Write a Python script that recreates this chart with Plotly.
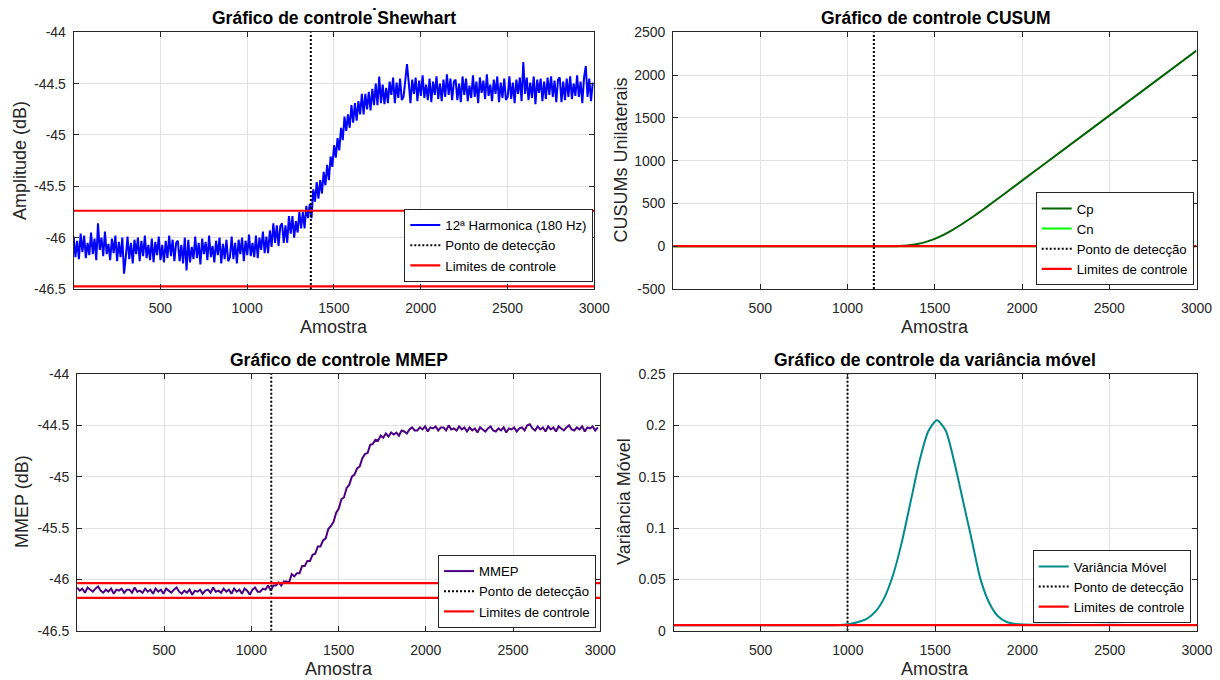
import plotly.graph_objects as go
from plotly.subplots import make_subplots

FONTE = "Liberation Sans, Arial, sans-serif"

# ---- dados ----
# Shewhart: 12a harmonica (180 Hz), uma amostra a cada 10
amostra_shewhart = list(range(1, 3001, 10))
amplitude_180hz = [
    -45.99, -46.19, -46.03, -46.21, -45.96, -46.14, -45.98, -46.20, -46.05, -46.17,
    -45.95, -46.16, -46.01, -46.22, -45.86, -46.12, -46.00, -46.18, -45.94, -46.16,
    -46.06, -46.22, -46.01, -46.15, -45.98, -46.23, -46.04, -46.19, -46.00, -46.35,
    -46.19, -45.99, -46.21, -46.05, -46.25, -46.02, -46.16, -46.00, -46.23, -46.03,
    -46.18, -45.98, -46.20, -46.07, -46.22, -46.01, -46.24, -46.04, -46.17, -45.99,
    -46.22, -46.07, -46.24, -46.03, -46.20, -45.98, -46.18, -46.02, -46.23, -46.05,
    -46.03, -46.23, -46.07, -46.25, -46.00, -46.32, -46.02, -46.24, -46.09, -46.21,
    -45.99, -46.20, -46.05, -46.26, -46.01, -46.16, -46.04, -46.22, -45.98, -46.19,
    -46.08, -46.24, -46.03, -46.17, -46.00, -46.25, -46.06, -46.21, -46.02, -46.23,
    -46.19, -45.99, -46.21, -46.05, -46.25, -46.02, -46.16, -46.00, -46.23, -46.03,
    -46.17, -45.97, -46.18, -46.05, -46.19, -45.98, -46.20, -46.00, -46.12, -45.94,
    -46.15, -45.99, -46.15, -45.93, -46.09, -45.86, -46.05, -45.88, -46.08, -45.89,
    -45.86, -46.05, -45.88, -46.05, -45.79, -45.96, -45.79, -46.00, -45.84, -45.95,
    -45.75, -45.91, -45.75, -45.91, -45.69, -45.81, -45.67, -45.81, -45.53, -45.65,
    -45.46, -45.62, -45.44, -45.57, -45.36, -45.49, -45.29, -45.44, -45.21, -45.31,
    -45.10, -45.22, -45.03, -45.15, -44.93, -45.05, -44.82, -44.96, -44.80, -44.93,
    -44.71, -44.88, -44.69, -44.86, -44.67, -44.80, -44.60, -44.80, -44.60, -44.75,
    -44.58, -44.76, -44.55, -44.71, -44.50, -44.71, -44.43, -44.69, -44.51, -44.70,
    -44.54, -44.69, -44.48, -44.61, -44.44, -44.69, -44.49, -44.64, -44.45, -44.66,
    -44.63, -44.43, -44.31, -44.49, -44.69, -44.46, -44.60, -44.44, -44.67, -44.47,
    -44.62, -44.42, -44.64, -44.51, -44.66, -44.45, -44.68, -44.48, -44.61, -44.43,
    -44.65, -44.50, -44.67, -44.46, -44.63, -44.41, -44.61, -44.45, -44.66, -44.48,
    -44.46, -44.66, -44.50, -44.68, -44.43, -44.61, -44.45, -44.67, -44.52, -44.64,
    -44.42, -44.63, -44.48, -44.69, -44.44, -44.59, -44.47, -44.65, -44.41, -44.62,
    -44.51, -44.67, -44.46, -44.60, -44.43, -44.68, -44.49, -44.64, -44.45, -44.66,
    -44.63, -44.43, -44.65, -44.49, -44.69, -44.46, -44.60, -44.44, -44.67, -44.29,
    -44.60, -44.44, -44.66, -44.49, -44.64, -44.43, -44.70, -44.46, -44.59, -44.45,
    -44.67, -44.48, -44.65, -44.44, -44.61, -44.43, -44.63, -44.47, -44.68, -44.46,
    -44.44, -44.68, -44.48, -44.66, -44.45, -44.63, -44.43, -44.65, -44.50, -44.62,
    -44.42, -44.63, -44.48, -44.69, -44.44, -44.33, -44.63, -44.45, -44.67, -44.49,
]
limites_shewhart = [-45.738, -46.474]
deteccao_shewhart = 1367

# CUSUM
amostra_cusum = [1, 1000, 1200, 1250, 1300, 1350, 1400, 1450, 1500, 1550, 1600,
                 1650, 1700, 1750, 1800, 1900, 2000, 2250, 2500, 2750, 3000]
cusum_cp = [0, 0, 0, 0, 3, 10, 26, 51, 86, 133, 189,
            251, 318, 389, 462, 614, 766, 1146, 1526, 1906, 2286]
amostra_cn = [1, 3000]
cusum_cn = [0, 0]
limites_cusum = [0]
deteccao_cusum = 1151

# MMEP, uma amostra a cada 15
amostra_mmep = list(range(1, 3001, 15))
mmep = [
    -46.08, -46.11, -46.09, -46.13, -46.08, -46.10, -46.12, -46.09, -46.07, -46.11,
    -46.13, -46.10, -46.12, -46.09, -46.14, -46.10, -46.11, -46.09, -46.13, -46.10,
    -46.10, -46.13, -46.08, -46.12, -46.11, -46.13, -46.09, -46.12, -46.10, -46.14,
    -46.09, -46.12, -46.10, -46.14, -46.09, -46.11, -46.13, -46.10, -46.08, -46.12,
    -46.14, -46.11, -46.13, -46.10, -46.15, -46.11, -46.12, -46.10, -46.14, -46.11,
    -46.10, -46.13, -46.08, -46.12, -46.11, -46.13, -46.09, -46.12, -46.10, -46.14,
    -46.09, -46.12, -46.10, -46.14, -46.09, -46.11, -46.15, -46.10, -46.08, -46.12,
    -46.12, -46.09, -46.10, -46.06, -46.11, -46.06, -46.06, -46.03, -46.06, -46.02,
    -46.02, -46.03, -45.95, -45.97, -45.94, -45.94, -45.87, -45.87, -45.82, -45.82,
    -45.76, -45.75, -45.68, -45.68, -45.62, -45.60, -45.51, -45.48, -45.44, -45.35,
    -45.31, -45.22, -45.20, -45.11, -45.08, -45.00, -44.98, -44.92, -44.90, -44.82,
    -44.78, -44.77, -44.69, -44.68, -44.64, -44.65, -44.60, -44.62, -44.58, -44.61,
    -44.57, -44.59, -44.57, -44.60, -44.55, -44.56, -44.58, -44.54, -44.52, -44.55,
    -44.55, -44.52, -44.54, -44.51, -44.56, -44.52, -44.53, -44.51, -44.55, -44.52,
    -44.52, -44.55, -44.50, -44.54, -44.53, -44.55, -44.51, -44.54, -44.52, -44.56,
    -44.52, -44.55, -44.53, -44.57, -44.52, -44.54, -44.56, -44.53, -44.51, -44.55,
    -44.56, -44.53, -44.55, -44.52, -44.57, -44.53, -44.54, -44.52, -44.56, -44.53,
    -44.52, -44.55, -44.50, -44.49, -44.53, -44.55, -44.51, -44.54, -44.52, -44.56,
    -44.51, -44.54, -44.52, -44.56, -44.51, -44.53, -44.55, -44.52, -44.50, -44.54,
    -44.55, -44.52, -44.54, -44.51, -44.56, -44.52, -44.53, -44.51, -44.55, -44.52,
]
limites_mmep = [-46.036, -46.18]
deteccao_mmep = 1114

# Variancia movel
amostra_var = [1, 200, 400, 600, 800, 960, 1010, 1060, 1110, 1160, 1210, 1260, 1310,
               1360, 1410, 1460, 1510, 1560, 1610, 1660, 1710, 1760, 1810, 1860,
               1910, 1960, 2010, 2100, 2300, 2500, 2700, 2900, 3000]
variancia = [0.0053, 0.0054, 0.0052, 0.0053, 0.0054, 0.0055, 0.0065, 0.0085, 0.0118,
             0.019, 0.0325, 0.055, 0.087, 0.126, 0.165, 0.194, 0.205, 0.195, 0.164,
             0.126, 0.088, 0.050, 0.027, 0.014, 0.0085, 0.0066, 0.0060, 0.0058,
             0.0056, 0.0057, 0.0055, 0.0056, 0.0056]
limites_var = [0.0055]
deteccao_var = 998

# eixos
faixa_x = [1, 3000]
x_ticks = [500, 1000, 1500, 2000, 2500, 3000]
x_ticktext = ["500", "1000", "1500", "2000", "2500", "3000"]
faixa_db = [-46.5, -44]
y_ticks_db = [-46.5, -46, -45.5, -45, -44.5, -44]
y_text_db = ["-46.5", "-46", "-45.5", "-45", "-44.5", "-44"]
faixa_cusum = [-500, 2500]
y_ticks_cusum = [-500, 0, 500, 1000, 1500, 2000, 2500]
y_text_cusum = ["-500", "0", "500", "1000", "1500", "2000", "2500"]
faixa_var = [0, 0.25]
y_ticks_var = [0, 0.05, 0.1, 0.15, 0.2, 0.25]
y_text_var = ["0", "0.05", "0.1", "0.15", "0.2", "0.25"]


def linhas_limite(limites):
    xs, ys = [], []
    for v in limites:
        xs += [faixa_x[0], faixa_x[1], None]
        ys += [v, v, None]
    return xs, ys


def add_deteccao(fig, x, faixa, row, col, legend):
    fig.add_trace(go.Scatter(x=[x, x], y=faixa, mode="lines", name="Ponto de detecção",
                             line=dict(color="black", width=2, dash="2px,2px"),
                             legend=legend), row=row, col=col)


def add_limites(fig, limites, row, col, legend):
    xs, ys = linhas_limite(limites)
    fig.add_trace(go.Scatter(x=xs, y=ys, mode="lines", name="Limites de controle",
                             line=dict(color="#ff0000", width=2.2),
                             legend=legend), row=row, col=col)


fig = make_subplots(rows=2, cols=2)

# Shewhart
fig.add_trace(go.Scatter(x=amostra_shewhart, y=amplitude_180hz, mode="lines",
                         name="12ª Harmonica (180 Hz)", line=dict(color="#0000ff", width=2),
                         legend="legend"), row=1, col=1)
add_deteccao(fig, deteccao_shewhart, faixa_db, 1, 1, "legend")
add_limites(fig, limites_shewhart, 1, 1, "legend")

# CUSUM
fig.add_trace(go.Scatter(x=amostra_cusum, y=cusum_cp, mode="lines", name="Cp",
                         line=dict(color="#006400", width=2, shape="spline", smoothing=0.6),
                         legend="legend2"), row=1, col=2)
fig.add_trace(go.Scatter(x=amostra_cn, y=cusum_cn, mode="lines", name="Cn",
                         line=dict(color="#00ff00", width=2), legend="legend2"), row=1, col=2)
add_deteccao(fig, deteccao_cusum, faixa_cusum, 1, 2, "legend2")
add_limites(fig, limites_cusum, 1, 2, "legend2")

# MMEP
fig.add_trace(go.Scatter(x=amostra_mmep, y=mmep, mode="lines", name="MMEP",
                         line=dict(color="#4c0082", width=2), legend="legend3"), row=2, col=1)
add_deteccao(fig, deteccao_mmep, faixa_db, 2, 1, "legend3")
add_limites(fig, limites_mmep, 2, 1, "legend3")

# Variancia movel
fig.add_trace(go.Scatter(x=amostra_var, y=variancia, mode="lines", name="Variância Móvel",
                         line=dict(color="#008b8b", width=2, shape="spline", smoothing=0.7),
                         legend="legend4"), row=2, col=2)
add_deteccao(fig, deteccao_var, faixa_var, 2, 2, "legend4")
add_limites(fig, limites_var, 2, 2, "legend4")

W, H = 1220, 680
OFF = 8  # a pagina html desloca a figura 8 px (margem do body)


def px_x(p):
    return (p - OFF) / W


def px_y(p):
    return 1 - (p - OFF) / H


# areas dos graficos em pixels da tela (esq, dir, topo, base)
areas = [(73.7, 594.3, 32.3, 289), (673.2, 1196.5, 32.3, 289),
         (77.1, 600.3, 374, 630.7), (673.5, 1197, 374, 630.7)]
faixas_y = [faixa_db, faixa_cusum, faixa_db, faixa_var]
ticks_y = [(y_ticks_db, y_text_db), (y_ticks_cusum, y_text_cusum),
           (y_ticks_db, y_text_db), (y_ticks_var, y_text_var)]

comum = dict(showline=True, linecolor="#262626", linewidth=1, mirror="ticks",
             ticks="inside", ticklen=5, tickcolor="#262626", showgrid=True,
             gridcolor="#e2e2e2", gridwidth=1, zeroline=False, automargin=False,
             tickfont=dict(family=FONTE, size=14, color="#262626"))

for k, (l, r, t, b) in enumerate(areas):
    row, col = k // 2 + 1, k % 2 + 1
    fig.update_xaxes(domain=[px_x(l), px_x(r)], range=faixa_x, tickmode="array",
                     tickvals=x_ticks, ticktext=x_ticktext, ticklabelstandoff=6,
                     row=row, col=col, **comum)
    fig.update_yaxes(domain=[px_y(b), px_y(t)], range=faixas_y[k], tickmode="array",
                     tickvals=ticks_y[k][0], ticktext=ticks_y[k][1], ticklabelstandoff=4,
                     row=row, col=col, **comum)


def legenda(xr, yb):
    return dict(x=px_x(xr), y=px_y(yb), xanchor="right", yanchor="bottom",
                bgcolor="white", bordercolor="#262626", borderwidth=1,
                font=dict(family=FONTE, size=13.2, color="black"),
                itemwidth=30, tracegroupgap=0, traceorder="normal")


titulos = [("Gráfico de controle Shewhart", 334, 18), ("Gráfico de controle CUSUM", 935, 18),
           ("Gráfico de controle MMEP", 338.7, 360), ("Gráfico de controle da variância móvel", 935, 360)]
rotulos_y = [("Amplitude (dB)", 19.5, 160.5), ("CUSUMs Unilaterais", 620, 160.5),
             ("MMEP (dB)", 22, 502), ("Variância Móvel", 624, 502)]
rotulos_x = [("Amostra", 334, 327), ("Amostra", 935, 327),
             ("Amostra", 338.7, 669), ("Amostra", 935, 669)]

anotacoes = []
for txt, x, y in titulos:
    anotacoes.append(dict(text="<b>" + txt + "</b>", x=px_x(x), y=px_y(y), xref="paper",
                          yref="paper", showarrow=False, xanchor="center", yanchor="middle",
                          font=dict(family=FONTE, size=17.5, color="black")))
for txt, x, y in rotulos_y:
    anotacoes.append(dict(text=txt, x=px_x(x), y=px_y(y), xref="paper", yref="paper",
                          showarrow=False, textangle=-90, xanchor="center", yanchor="middle",
                          font=dict(family=FONTE, size=18, color="#262626")))
for txt, x, y in rotulos_x:
    anotacoes.append(dict(text=txt, x=px_x(x), y=px_y(y), xref="paper", yref="paper",
                          showarrow=False, xanchor="center", yanchor="middle",
                          font=dict(family=FONTE, size=18, color="#262626")))
# sobra do titulo geral cortado no topo
anotacoes.append(dict(text="<b>p</b>", x=px_x(377), y=1 - 3 / H, xref="paper", yref="paper",
                      showarrow=False, xanchor="center", yanchor="bottom", borderpad=0,
                      font=dict(family=FONTE, size=17.5, color="black")))

fig.update_layout(
    width=W, height=H,
    margin=dict(l=0, r=0, t=0, b=0),
    paper_bgcolor="white", plot_bgcolor="white",
    font=dict(family=FONTE, color="#262626"),
    annotations=anotacoes,
    legend=legenda(593.3, 282),
    legend2=legenda(1193.7, 285.3),
    legend3=legenda(596, 628),
    legend4=legenda(1190.7, 623.3),
)

fig.write_html("out.html")
